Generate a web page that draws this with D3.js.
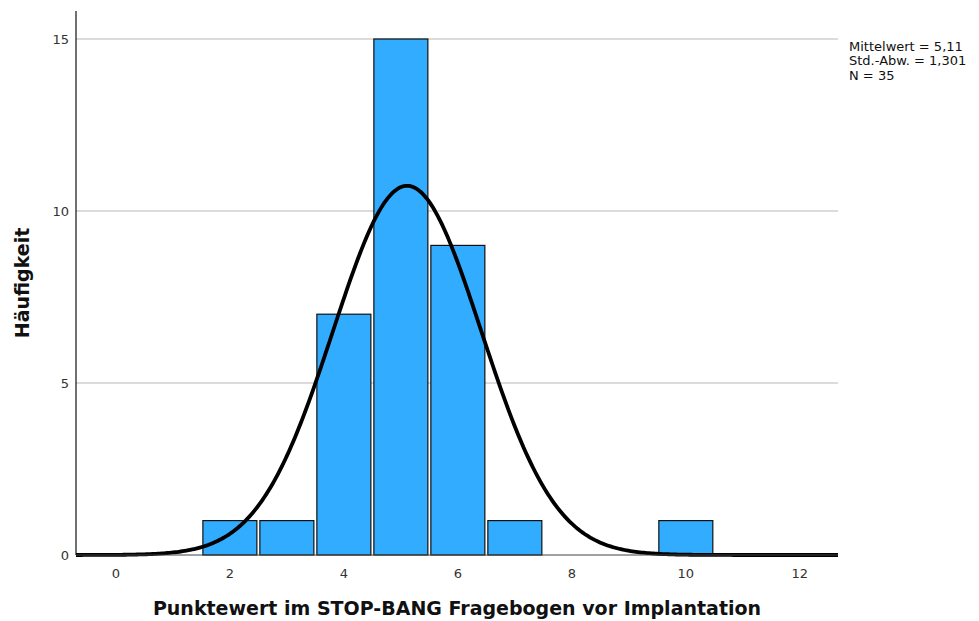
<!DOCTYPE html>
<html><head><meta charset="utf-8">
<script src="https://cdn.jsdelivr.net/npm/d3@7"></script>
<style>body{margin:0;background:#fff}</style>
</head><body>
<svg id="c" width="979" height="621"></svg>
<script>
const binCenters = [2, 3, 4, 5, 6, 7, 10];
const counts = [1, 1, 7, 15, 9, 1, 1];
const xTicks = [0, 2, 4, 6, 8, 10, 12];
const yTicks = [0, 5, 10, 15];
const stats = {mean: 5.11, sd: 1.301, n: 35, binWidth: 1};
const legendLines = ["Mittelwert = 5,11", "Std.-Abw. = 1,301", "N = 35"];

const svg = d3.select("#c");
const L = 76, R = 838, T = 11, B = 555;
const x = d3.scaleLinear().domain([-0.70, 12.67]).range([L, R]);
const y = d3.scaleLinear().domain([0, 15]).range([B, 39]);
const font = "'DejaVu Sans', Verdana, sans-serif";

// gridlines
svg.append("g").selectAll("line").data(yTicks.filter(d => d > 0)).join("line")
  .attr("x1", L).attr("x2", R).attr("y1", d => y(d)).attr("y2", d => y(d))
  .attr("stroke", "#b8b8b8").attr("stroke-width", 1);

// bars
svg.append("g").selectAll("rect").data(binCenters).join("rect")
  .attr("x", (d) => x(d - 0.5) + 1.5)
  .attr("width", d => x(d + 0.5) - x(d - 0.5) - 3)
  .attr("y", (d, i) => y(counts[i]))
  .attr("height", (d, i) => y(0) - y(counts[i]))
  .attr("fill", "#32acff").attr("stroke", "#111").attr("stroke-width", 1.2);

// normal curve
const pts = d3.range(0, 401).map(i => {
  const xv = x.domain()[0] + (x.domain()[1] - x.domain()[0]) * i / 400;
  const z = (xv - stats.mean) / stats.sd;
  return [xv, stats.n * stats.binWidth / (stats.sd * Math.sqrt(2 * Math.PI)) * Math.exp(-0.5 * z * z)];
});
svg.append("path").datum(pts)
  .attr("d", d3.line().x(d => x(d[0])).y(d => y(d[1])))
  .attr("fill", "none").attr("stroke", "#000").attr("stroke-width", 3.8);

// axes lines
svg.append("line").attr("x1", L).attr("x2", R).attr("y1", B).attr("y2", B)
  .attr("stroke", "#444").attr("stroke-width", 1.2);
svg.append("line").attr("x1", L).attr("x2", L).attr("y1", T).attr("y2", B)
  .attr("stroke", "#111").attr("stroke-width", 1.2);

// tick labels
svg.append("g").selectAll("text").data(xTicks).join("text")
  .attr("x", d => x(d)).attr("y", 578).attr("text-anchor", "middle")
  .attr("font-family", font).attr("font-size", 13).attr("fill", "#333").text(d => d);
svg.append("g").selectAll("text").data(yTicks).join("text")
  .attr("x", 69).attr("y", d => y(d) + 5).attr("text-anchor", "end")
  .attr("font-family", font).attr("font-size", 13).attr("fill", "#333").text(d => d);

// axis titles
svg.append("text").attr("x", 457).attr("y", 615).attr("text-anchor", "middle")
  .attr("font-family", font).attr("font-size", 19).attr("font-weight", "bold")
  .attr("fill", "#111").text("Punktewert im STOP-BANG Fragebogen vor Implantation");
svg.append("text").attr("transform", "translate(29,283) rotate(-90)").attr("text-anchor", "middle")
  .attr("font-family", font).attr("font-size", 19).attr("font-weight", "bold")
  .attr("fill", "#111").text("Häufigkeit");

// legend
svg.append("g").selectAll("text").data(legendLines).join("text")
  .attr("x", 849).attr("y", (d, i) => 51 + i * 14.3)
  .attr("font-family", font).attr("font-size", 13).attr("fill", "#111").text(d => d);
</script>
</body></html>
